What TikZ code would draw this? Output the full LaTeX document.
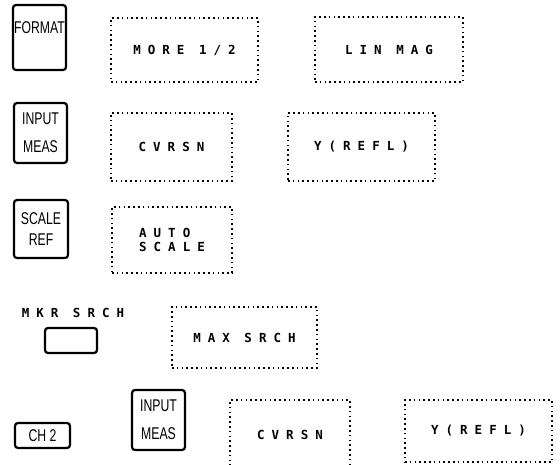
\documentclass[tikz,border=0pt]{standalone}
\usepackage{fontspec}
\usepackage{tikz}
\newfontfamily\keyfont[FakeStretch=0.72]{Liberation Sans}
\newfontfamily\softfont[LetterSpace=56]{DejaVu Sans Mono}

\begin{document}
\begin{tikzpicture}[x=1pt, y=-1pt,
  hardkey/.style={draw, line width=2.2pt, rounded corners=3pt, inner sep=0pt, align=center,
    font=\keyfont\fontsize{17}{19}\selectfont},
  softkey/.style={draw, line width=1.6pt, dash pattern=on 1.6pt off 3.2pt, inner sep=0pt,
    align=left, font=\softfont\bfseries\fontsize{12.5}{14}\selectfont},
  keytag/.style={font=\keyfont\fontsize{17}{19}\selectfont, inner sep=0pt}]
\useasboundingbox (0,0) rectangle (560,464);

% Format key and its menu
\node[hardkey, minimum width=53, minimum height=65] (fmt) at (39.5,37.5) {};
\node[keytag] (fmttag) at (39.5,28) {FORMAT};
\node[softkey, minimum width=147, minimum height=64] (more) at (184.5,50) {MORE 1/2};
\node[softkey, minimum width=148, minimum height=65] (linmag) at (389,49.5) {LIN MAG};

% Input meas key
\node[hardkey, minimum width=53, minimum height=60] (meas) at (40.5,133) {INPUT\\[9pt]MEAS};
\node[softkey, minimum width=121, minimum height=68] (cvrsn) at (171.5,147) {CVRSN};
\node[softkey, minimum width=147, minimum height=68] (yrefl) at (361.5,147) {Y(REFL)};

% Scale ref key
\node[hardkey, minimum width=54, minimum height=58] (scale) at (41,229) {SCALE\\[2pt]REF};
\node[softkey, minimum width=120, minimum height=66] (auto) at (172,240)
  {\fontsize{12.5}{13.5}\selectfont AUTO\\SCALE};

% Marker search
\node[font=\softfont\bfseries\fontsize{12.5}{14}\selectfont, inner sep=0pt] (mkr) at (73,313) {MKR SRCH};
\node[hardkey, minimum width=52, minimum height=25] (mkrkey) at (71,340.5) {};
\node[softkey, minimum width=145, minimum height=61] (maxs) at (244.5,337.5) {MAX SRCH};

% Channel 2 sequence
\node[hardkey, minimum width=55, minimum height=25] (ch2) at (42.5,435.5) {CH 2};
\node[hardkey, minimum width=53, minimum height=60] (meas2) at (158.5,420) {INPUT\\[9pt]MEAS};
\node[softkey, minimum width=120, minimum height=70] (cvrsn2) at (290,435) {CVRSN};
\node[softkey, minimum width=147, minimum height=62] (yrefl2) at (478.5,431) {Y(REFL)};
\end{tikzpicture}
\end{document}
